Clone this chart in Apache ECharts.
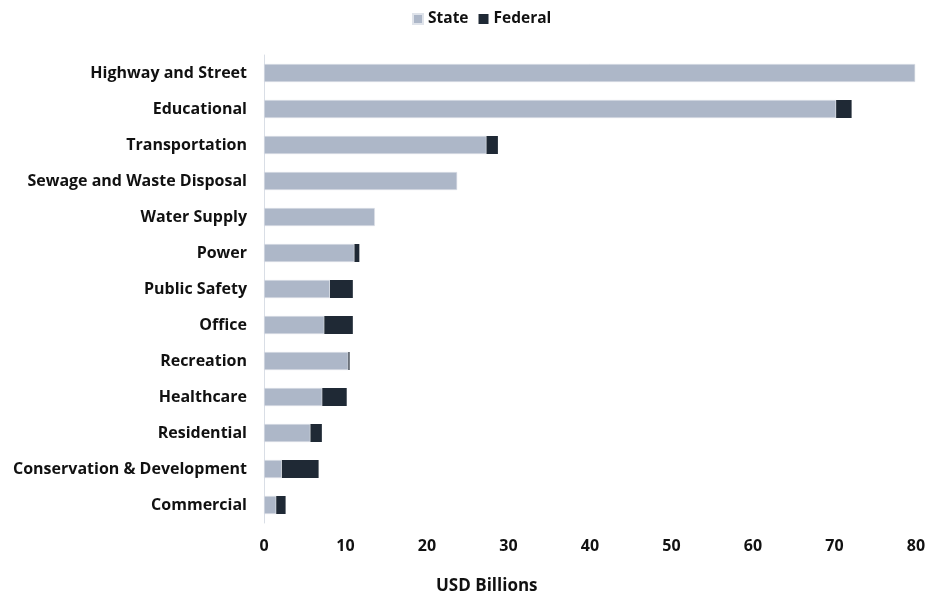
<!DOCTYPE html>
<html>
<head>
<meta charset="utf-8">
<script src="https://cdn.jsdelivr.net/npm/echarts@6/dist/echarts.min.js"></script>
<style>
  html, body { margin: 0; padding: 0; background: #ffffff; }
  #chart { width: 929px; height: 598px; }
</style>
</head>
<body>
<div id="chart"></div>
<script>
// Construction spending by category, USD billions
const categories = [
  'Highway and Street',
  'Educational',
  'Transportation',
  'Sewage and Waste Disposal',
  'Water Supply',
  'Power',
  'Public Safety',
  'Office',
  'Recreation',
  'Healthcare',
  'Residential',
  'Conservation & Development',
  'Commercial'
];
const stateValues   = [79.9, 70.2, 27.3, 23.7, 13.6, 11.1, 8.1, 7.4, 10.35, 7.15, 5.7, 2.2, 1.5];
const federalValues = [0,    1.9,  1.4,  0,    0,    0.6,  2.8, 3.5, 0.15,  3.0,  1.4, 4.5, 1.15];
const xTicks = [0, 10, 20, 30, 40, 50, 60, 70, 80];

const FONT = '"Open Sans", Lato, sans-serif';
const TEXT = '#111111';
const chart = echarts.init(document.getElementById('chart'), null, { renderer: 'canvas' });

chart.setOption({
  animation: false,
  backgroundColor: '#ffffff',
  legend: {
    top: 11,
    left: 412,
    padding: 0,
    itemWidth: 10,
    itemHeight: 10,
    itemGap: 10,
    icon: 'rect',
    textStyle: { fontFamily: FONT, fontWeight: 'bold', fontSize: 15.5, color: TEXT },
    data: ['State', 'Federal']
  },
  grid: { left: 264, right: 13, top: 55, bottom: 75, containLabel: false },
  xAxis: {
    type: 'value',
    min: xTicks[0],
    max: xTicks[xTicks.length - 1],
    interval: 10,
    splitLine: { show: false },
    axisLine: { show: false },
    axisTick: { show: false },
    axisLabel: { fontFamily: FONT, fontWeight: 'bold', fontSize: 16, color: TEXT, margin: 15 }
  },
  yAxis: {
    type: 'category',
    inverse: true,
    data: categories,
    axisLine: { show: true, lineStyle: { color: '#d9dee6', width: 1 } },
    axisTick: { show: false },
    axisLabel: { fontFamily: FONT, fontWeight: 'bold', fontSize: 16, color: TEXT, margin: 17 }
  },
  graphic: [{
    type: 'text',
    left: 436,
    top: 578,
    style: {
      text: 'USD Billions',
      fontFamily: FONT, fontWeight: 'bold', fontSize: 17, fill: TEXT
    }
  }],
  series: [
    {
      name: 'State', type: 'bar', stack: 'total', barWidth: 18,
      itemStyle: { color: '#adb7c8', borderColor: '#dfe3ea', borderWidth: 0.6 },
      data: stateValues
    },
    {
      name: 'Federal', type: 'bar', stack: 'total', barWidth: 18,
      itemStyle: { color: '#1f2935' },
      data: federalValues
    }
  ]
});
</script>
</body>
</html>
